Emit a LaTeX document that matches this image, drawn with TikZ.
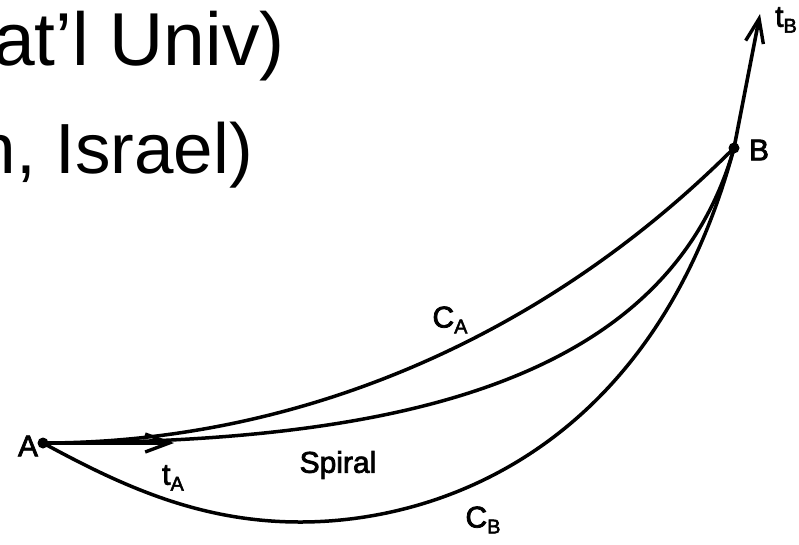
\documentclass[tikz,border=0pt]{standalone}
\usepackage{fontspec}
\setmainfont{Liberation Sans}
\newfontfamily\lblfont[FakeBold=2.5]{Liberation Sans}
\usetikzlibrary{arrows.meta}
\newcommand{\lsub}[1]{\raisebox{-6pt}{\fontsize{20}{20}\selectfont #1}}
\begin{document}
\begin{tikzpicture}[x=1pt,y=-1pt,
  curve/.style={line width=3.5pt, line cap=round, line join=round},
  vec/.style={line width=3.6pt, -{Straight Barb[length=24pt,width=18pt,line width=3.4pt]}},
  lbl/.style={font=\lblfont\fontsize{30}{30}\selectfont, inner sep=0pt},
  big/.style={font=\fontsize{75}{80}\selectfont, inner sep=0pt, anchor=base east},
  pt/.style={circle, fill=black, inner sep=0pt, minimum size=11pt}]
\useasboundingbox (0,0) rectangle (799,544);
\clip (0,0) rectangle (799,544);
% header text (cut off at left)
\node[big] (h1) at (285,65) {at’l Univ)};
\node[big, font=\fontsize{71}{80}\selectfont] (h2) at (253,173) {n, Israel)};
% points
\coordinate (A) at (43,443);
\coordinate (B) at (734,148);
\coordinate (tA) at (174,443);
\coordinate (tB) at (760,14);
\coordinate (bot) at (300,522);
% curves
\draw[curve] (A) .. controls (286,443) and (535,347) .. (B);
\draw[curve] (A) .. controls (384,443) and (666,388) .. (B);
\draw[curve] (A) .. controls (122,486) and (200,522) .. (bot)
                 .. controls (450,522) and (656,439) .. (B);
% tangent vectors
\draw[vec] (A) -- (tA);
\draw[vec] (B) -- (tB);
\node[pt] (pA) at (A) {};
\node[pt] (pB) at (B) {};
% labels
\node[lbl] (lA) at (28,446) {A};
\node[lbl] (lB) at (759,150) {B};
\node[lbl] (ltA) at (173,478) {t\lsub{A}};
\node[lbl] (ltB) at (786,20) {t\lsub{B}};
\node[lbl] (lCA) at (450,320) {C\lsub{A}};
\node[lbl] (lCB) at (483,520) {C\lsub{B}};
\node[lbl] (lsp) at (338,465) {Spiral};
\end{tikzpicture}
\end{document}
